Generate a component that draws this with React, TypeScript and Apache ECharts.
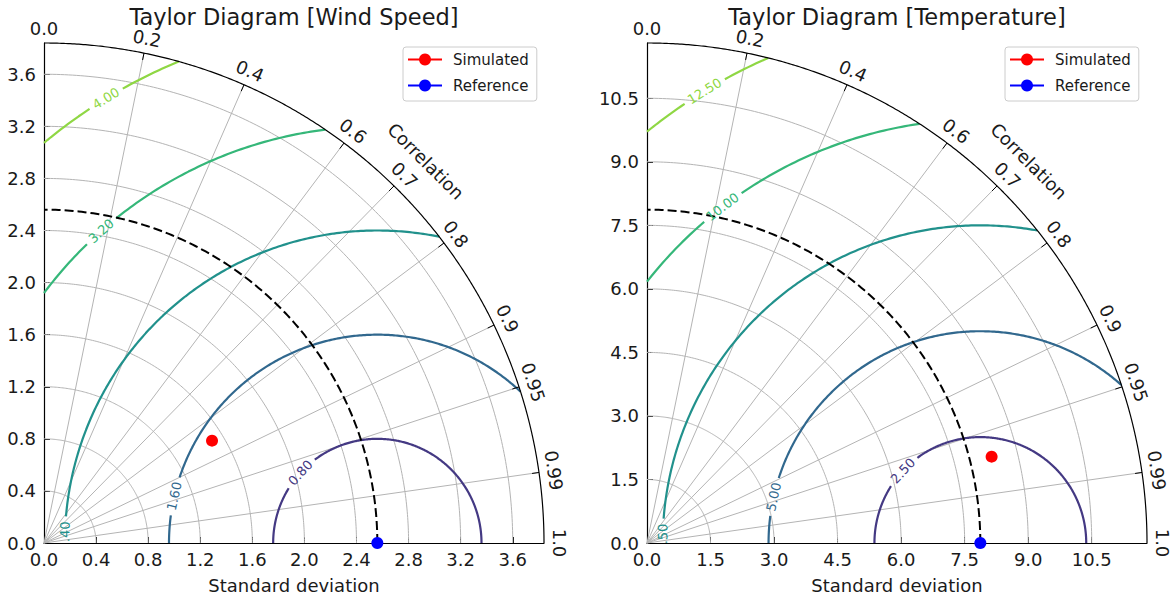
import React, { useEffect, useRef } from 'react';
import * as echarts from 'echarts';

const FONT = 'DejaVu Sans';
const TEXT = '#1a1a1a';

// ---- Wind Speed diagram ----
const windTitle = 'Taylor Diagram [Wind Speed]';
const windRefStd = 2.56;
const windMaxStd = 3.84;
const windSimStd = 1.511;
const windSimCorr = 0.854;
const windStdTicks = [0, 0.4, 0.8, 1.2, 1.6, 2.0, 2.4, 2.8, 3.2, 3.6];
const windRmsLevels = [0.8, 1.6, 2.4, 3.2, 4.0];
const windRmsLabelAngles = [137.6, 167, 178.7, 131.5, 121.4];

// ---- Temperature diagram ----
const tempTitle = 'Taylor Diagram [Temperature]';
const tempRefStd = 7.87;
const tempMaxStd = 11.805;
const tempSimStd = 8.388;
const tempSimCorr = 0.970;
const tempStdTicks = [0, 1.5, 3.0, 4.5, 6.0, 7.5, 9.0, 10.5];
const tempRmsLevels = [2.5, 5.0, 7.5, 10.0, 12.5];
const tempRmsLabelAngles = [137, 167.4, 179.1, 127.5, 121.4];

// ---- shared ----
const corrGridValues = [0.2, 0.4, 0.6, 0.7, 0.8, 0.9, 0.95, 0.99];
const corrLabelValues = [0.0, 0.2, 0.4, 0.6, 0.7, 0.8, 0.9, 0.95, 0.99, 1.0];
const rmsColors = ['#443983', '#31688e', '#21918c', '#35b779', '#8fd744'];

const diagrams = [
  { title: windTitle, left: 44, refStd: windRefStd, maxStd: windMaxStd, simStd: windSimStd, simCorr: windSimCorr,
    stdTicks: windStdTicks, rmsLevels: windRmsLevels, rmsLabelAngles: windRmsLabelAngles, legendLeft: 403 },
  { title: tempTitle, left: 647, refStd: tempRefStd, maxStd: tempMaxStd, simStd: tempSimStd, simCorr: tempSimCorr,
    stdTicks: tempStdTicks, rmsLevels: tempRmsLevels, rmsLabelAngles: tempRmsLabelAngles, legendLeft: 1005 },
];

const GRID_TOP = 43;
const GRID_SIZE = 500;
const LABEL_FS = 13;

function arc(r: number, n = 180): number[][] {
  const pts: number[][] = [];
  for (let i = 0; i <= n; i++) {
    const t = (Math.PI / 2) * i / n;
    pts.push([r * Math.cos(t), r * Math.sin(t)]);
  }
  return pts;
}

function labelHalfWidth(text: string) {
  let w = 0;
  for (const ch of text) w += ch === '.' ? 0.318 : 0.636;
  return (w * LABEL_FS) / 2;
}

function contourSegments(ref: number, L: number, max: number, labelDeg: number, halfGapPx: number, pxPerUnit: number) {
  const c = (max * max - ref * ref - L * L) / (2 * ref * L);
  const lo = Math.acos(Math.max(-1, Math.min(1, c)));
  const hi = L > ref ? Math.acos(-ref / L) : Math.PI;
  const pl = (labelDeg * Math.PI) / 180;
  const hg = halfGapPx / (L * pxPerUnit);
  const ranges = [[lo, Math.min(hi, pl - hg)], [Math.max(lo, pl + hg), hi]];
  return ranges
    .filter(([a, b]) => b > a)
    .map(([a, b]) => {
      const n = Math.max(2, Math.ceil(((b - a) * 180) / Math.PI * 2));
      const pts: number[][] = [];
      for (let i = 0; i <= n; i++) {
        const p = a + ((b - a) * i) / n;
        pts.push([ref + L * Math.cos(p), L * Math.sin(p)]);
      }
      return pts;
    });
}

function buildOption() {
  const grids: any[] = [];
  const xAxes: any[] = [];
  const yAxes: any[] = [];
  const series: any[] = [];
  const graphics: any[] = [];
  const legends: any[] = [];

  diagrams.forEach((d, gi) => {
    const pxPerUnit = GRID_SIZE / d.maxStd;
    grids.push({ left: d.left, top: GRID_TOP, width: GRID_SIZE, height: GRID_SIZE, containLabel: false, outerBoundsMode: 'none' });
    const axisBase = (margin: number) => ({
      type: 'value',
      gridIndex: gi,
      min: 0,
      max: d.maxStd,
      axisLine: { show: true, onZero: false, lineStyle: { color: '#000', width: 1.2 } },
      axisTick: { show: true, inside: true, length: 6, lineStyle: { color: '#000', width: 1 }, customValues: d.stdTicks },
      axisLabel: {
        customValues: d.stdTicks,
        formatter: (v: number) => v.toFixed(1),
        fontSize: 18,
        fontFamily: FONT,
        color: TEXT,
        margin,
      },
      splitLine: { show: false },
    });
    xAxes.push({
      ...axisBase(7),
      name: 'Standard deviation',
      nameLocation: 'middle',
      nameGap: 33,
      nameTextStyle: { fontSize: 18, fontFamily: FONT, color: TEXT },
    });
    yAxes.push(axisBase(8));

    const line = (data: number[][], color: string, width: number, z: number, type: any = 'solid') => ({
      type: 'line',
      xAxisIndex: gi,
      yAxisIndex: gi,
      data,
      symbol: 'none',
      showSymbol: false,
      lineStyle: { color, width, type },
      silent: true,
      clip: false,
      z,
    });

    // std-dev grid arcs
    d.stdTicks.filter((r) => r > 0).forEach((r) => series.push(line(arc(r), '#b4b4b4', 1, 1)));
    // correlation rays
    corrGridValues.forEach((c) => {
      const s = Math.sqrt(1 - c * c);
      series.push(line([[0, 0], [d.maxStd * c, d.maxStd * s]], '#b4b4b4', 1, 1));
    });
    // outer boundary arc
    series.push(line(arc(d.maxStd, 360), '#000', 1.2, 3));
    // RMS contours
    d.rmsLevels.forEach((L, i) => {
      const txt = L.toFixed(2);
      const segs = contourSegments(d.refStd, L, d.maxStd, d.rmsLabelAngles[i], labelHalfWidth(txt) + 5, pxPerUnit);
      segs.forEach((seg) => series.push(line(seg, rmsColors[i], 2.2, 2)));
    });
    // reference std arc (dashed)
    series.push(line(arc(d.refStd, 180), '#000', 2, 4, [9, 4]));

    // contour labels (clipped to the plot area)
    series.push({
      type: 'custom',
      xAxisIndex: gi,
      yAxisIndex: gi,
      clip: true,
      silent: true,
      z: 5,
      data: d.rmsLevels.map((L, i) => {
        const p = (d.rmsLabelAngles[i] * Math.PI) / 180;
        return [d.refStd + L * Math.cos(p), L * Math.sin(p), i];
      }),
      renderItem: (params: any, api: any) => {
        const i = api.value(2);
        const pt = api.coord([api.value(0), api.value(1)]);
        const rot = ((d.rmsLabelAngles[i] - 90) * Math.PI) / 180;
        return {
          type: 'text',
          x: pt[0],
          y: pt[1],
          rotation: rot,
          style: {
            text: d.rmsLevels[i].toFixed(2),
            fill: rmsColors[i],
            fontSize: LABEL_FS,
            fontFamily: FONT,
            align: 'center',
            verticalAlign: 'middle',
            textAlign: 'center',
            textVerticalAlign: 'middle',
          },
        };
      },
    });

    // correlation labels and ticks on the outer arc
    series.push({
      type: 'custom',
      xAxisIndex: gi,
      yAxisIndex: gi,
      clip: false,
      silent: true,
      z: 6,
      data: corrLabelValues.map((c) => [d.maxStd * c, d.maxStd * Math.sqrt(1 - c * c), c]),
      renderItem: (params: any, api: any) => {
        const c = api.value(2);
        const th = Math.acos(c);
        const pt = api.coord([api.value(0), api.value(1)]);
        const dx = Math.cos(th);
        const dy = -Math.sin(th);
        const txt = c === 0 || c === 1 ? c.toFixed(1) : String(c);
        const children: any[] = [
          {
            type: 'text',
            x: pt[0] + dx * 15,
            y: pt[1] + dy * 15,
            rotation: th - Math.PI / 2,
            style: {
              text: txt,
              fill: TEXT,
              fontSize: 18,
              fontFamily: FONT,
              align: 'center',
              verticalAlign: 'middle',
              textAlign: 'center',
              textVerticalAlign: 'middle',
            },
          },
        ];
        if (c > 0 && c < 1) {
          children.push({
            type: 'line',
            shape: { x1: pt[0], y1: pt[1], x2: pt[0] - dx * 7, y2: pt[1] - dy * 7 },
            style: { stroke: '#000', lineWidth: 1 },
          });
        }
        return { type: 'group', children };
      },
    });

    // "Correlation" axis title
    series.push({
      type: 'custom',
      xAxisIndex: gi,
      yAxisIndex: gi,
      clip: false,
      silent: true,
      z: 6,
      data: [[d.maxStd * Math.SQRT1_2, d.maxStd * Math.SQRT1_2]],
      renderItem: (params: any, api: any) => {
        const pt = api.coord([api.value(0), api.value(1)]);
        return {
          type: 'text',
          x: pt[0] + Math.SQRT1_2 * 40,
          y: pt[1] - Math.SQRT1_2 * 40,
          rotation: -Math.PI / 4,
          style: {
            text: 'Correlation',
            fill: TEXT,
            fontSize: 18,
            fontFamily: FONT,
            align: 'center',
            verticalAlign: 'middle',
            textAlign: 'center',
            textVerticalAlign: 'middle',
          },
        };
      },
    });

    // points
    const sinSim = Math.sqrt(1 - d.simCorr * d.simCorr);
    series.push({
      type: 'line',
      name: 'Simulated',
      xAxisIndex: gi,
      yAxisIndex: gi,
      data: [[d.simStd * d.simCorr, d.simStd * sinSim]],
      symbol: 'circle',
      symbolSize: 12,
      showSymbol: true,
      itemStyle: { color: '#ff0000' },
      lineStyle: { color: '#ff0000', width: 2 },
      clip: false,
      z: 10,
    });
    series.push({
      type: 'line',
      name: 'Reference',
      xAxisIndex: gi,
      yAxisIndex: gi,
      data: [[d.refStd, 0]],
      symbol: 'circle',
      symbolSize: 12,
      showSymbol: true,
      itemStyle: { color: '#0000ff' },
      lineStyle: { color: '#0000ff', width: 2 },
      clip: false,
      z: 10,
    });

    legends.push({
      data: ['Simulated', 'Reference'],
      orient: 'vertical',
      left: d.legendLeft,
      top: 47,
      itemWidth: 34,
      itemHeight: 15,
      itemGap: 11,
      padding: [5, 8, 8, 4],
      backgroundColor: '#ffffff',
      borderColor: '#cccccc',
      borderWidth: 1,
      borderRadius: 3,
      selectedMode: false,
      textStyle: { fontSize: 15, fontFamily: FONT, color: TEXT, padding: [0, 0, 0, 6] },
    });

    graphics.push({
      type: 'text',
      x: d.left + GRID_SIZE / 2,
      y: 17,
      style: {
        text: d.title,
        fill: TEXT,
        fontSize: 22.5,
        fontFamily: FONT,
        textAlign: 'center',
        textVerticalAlign: 'middle',
        align: 'center',
        verticalAlign: 'middle',
      },
    });
  });

  return {
    animation: false,
    backgroundColor: '#ffffff',
    textStyle: { fontFamily: FONT },
    grid: grids,
    xAxis: xAxes,
    yAxis: yAxes,
    legend: legends,
    series,
    graphic: graphics,
  };
}

export default function App() {
  const ref = useRef<HTMLDivElement>(null);
  useEffect(() => {
    const chart = echarts.init(ref.current as HTMLDivElement, null, { renderer: 'svg' });
    chart.setOption(buildOption() as any);
    return () => chart.dispose();
  }, []);
  return <div ref={ref} style={{ position: 'absolute', left: 0, top: 0, width: 1176, height: 601 }} />;
}
